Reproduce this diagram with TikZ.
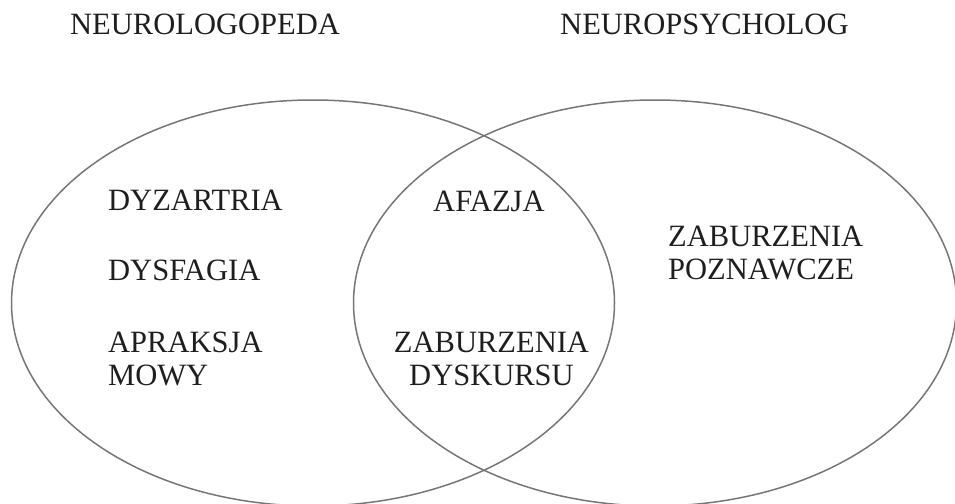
\documentclass[tikz,border=0pt]{standalone}
\usepackage{fontspec}
\setmainfont{Liberation Serif}[FakeStretch=0.985]
\usetikzlibrary{shapes.geometric}
\definecolor{vennline}{HTML}{767676}
\definecolor{txt}{HTML}{1E1E1E}
\tikzset{
  venn/.style={ellipse, draw=vennline, line width=1.5pt, minimum width=603pt, minimum height=406pt, inner sep=0pt},
  lbl/.style={inner sep=0pt, text=txt, font=\fontsize{31}{32.5}\selectfont, anchor=north west, align=left},
  lblc/.style={lbl, anchor=north, align=center}
}
\begin{document}
\begin{tikzpicture}[x=1pt,y=-1pt]
\useasboundingbox (0,0) rectangle (955,503);
\node[venn] (L) at (313,303) {};
\node[venn] (R) at (655,303) {};
\node[lbl] (h1) at (70,14) {NEUROLOGOPEDA};
\node[lbl] (h2) at (560,14) {NEUROPSYCHOLOG};
\node[lbl] (t1) at (108,190) {DYZARTRIA};
\node[lbl] (t2) at (108,260) {DYSFAGIA};
\node[lbl] (t3) at (108,332) {APRAKSJA\\MOWY};
\node[lbl] (t4) at (433,191) {AFAZJA};
\node[lblc] (t5) at (491.5,332) {ZABURZENIA\\DYSKURSU};
\node[lbl] (t6) at (668,226) {ZABURZENIA\\POZNAWCZE};
\end{tikzpicture}
\end{document}
